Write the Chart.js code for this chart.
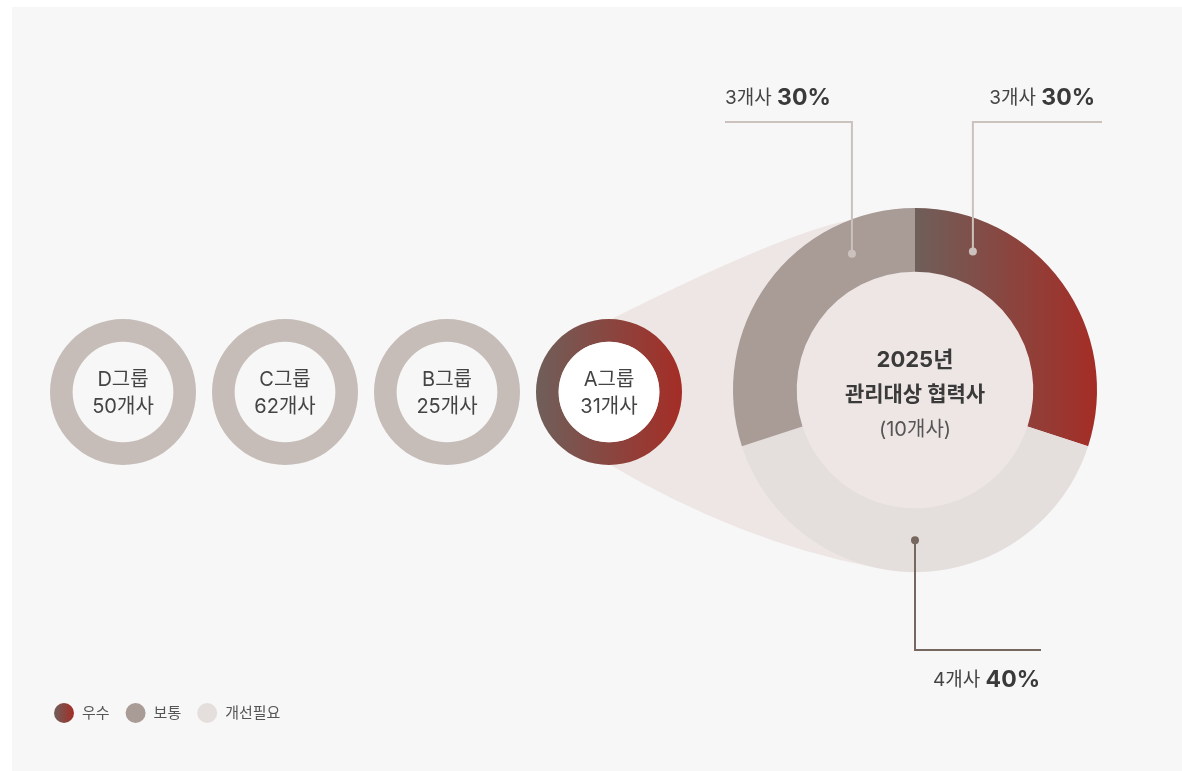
<!DOCTYPE html>
<html lang="ko">
<head>
<meta charset="utf-8">
<title>2025년 관리대상 협력사</title>
<script src="https://cdn.jsdelivr.net/npm/chart.js@4.4.1/dist/chart.umd.min.js"></script>
<style>
  html, body { margin: 0; padding: 0; background: #fff; }
  body { width: 1182px; height: 771px; position: relative; overflow: hidden; }
  #panel { position: absolute; left: 12px; top: 7px; right: 0; bottom: 0; background: #f7f7f7; }
  canvas { position: absolute; }
  #main { left: 0; top: 0; }
</style>
</head>
<body>
<div id="panel"></div>
<canvas id="main" width="1182" height="771"></canvas>
<canvas class="group" width="146" height="146"></canvas>
<canvas class="group" width="146" height="146"></canvas>
<canvas class="group" width="146" height="146"></canvas>
<canvas class="group" width="146" height="146"></canvas>
<script>
// groups shown as small rings, left to right
var groupNames = ['D그룹', 'C그룹', 'B그룹', 'A그룹'];
var groupCounts = [50, 62, 25, 31];
var focusGroup = 'A그룹';

// grades of the focus group (legend order)
var gradeLabels = ['우수', '보통', '개선필요'];
var gradeCounts = [3, 3, 4];
var gradePercents = [30, 30, 40];
// order the grades run clockwise from 12 o'clock
var ringOrder = [0, 2, 1];

var centerYear = '2025년';
var centerTitle = '관리대상 협력사';
var centerTotal = 10;

var FONT = 'Inter, "Noto Sans CJK KR", "Noto Sans", sans-serif';
var GRAY_RING = '#c6bdb9';
var CONE = '#ede6e4';
var gradeColors = ['grad', '#a99c97', '#e4dfdc'];

var GROUP_X0 = 123, GROUP_GAP = 162, ROW_Y = 392, GROUP_R = 73;

function redGradient(ctx, x0, x1) {
  var g = ctx.createLinearGradient(x0, 0, x1, 0);
  g.addColorStop(0, '#6f5f5a');
  g.addColorStop(1, '#a42d26');
  return g;
}

function rad(deg) { return deg * Math.PI / 180; }

// ---- small group rings ----
var groupCanvases = document.querySelectorAll('canvas.group');
groupNames.forEach(function (name, i) {
  var cv = groupCanvases[i];
  cv.style.left = (GROUP_X0 + i * GROUP_GAP - GROUP_R) + 'px';
  cv.style.top = (ROW_Y - GROUP_R) + 'px';
  var hot = name === focusGroup;

  new Chart(cv, {
    type: 'doughnut',
    data: {
      labels: [name],
      datasets: [{
        data: [groupCounts[i]],
        backgroundColor: function (c) {
          if (!hot) return GRAY_RING;
          var a = c.chart.chartArea;
          if (!a) return '#8a4a40';
          return redGradient(c.chart.ctx, a.left, a.right);
        },
        borderWidth: 0
      }]
    },
    options: {
      responsive: false,
      animation: false,
      cutout: '69%',
      plugins: { legend: { display: false }, tooltip: { enabled: false } }
    },
    plugins: [{
      id: 'groupLabel',
      afterDatasetsDraw: function (chart) {
        var arc = chart.getDatasetMeta(0).data[0];
        var ctx = chart.ctx;
        ctx.save();
        if (hot) {
          ctx.fillStyle = '#ffffff';
          ctx.beginPath();
          ctx.arc(arc.x, arc.y, arc.innerRadius, 0, Math.PI * 2);
          ctx.fill();
        }
        ctx.fillStyle = '#444444';
        ctx.font = '20px ' + FONT;
        ctx.textAlign = 'center';
        ctx.textBaseline = 'middle';
        ctx.fillText(name, arc.x, arc.y - 12);
        ctx.fillText(groupCounts[i] + '개사', arc.x, arc.y + 15);
        ctx.restore();
      }
    }]
  });
});

// ---- big ring: grades of the focus group ----
var focusIndex = groupNames.indexOf(focusGroup);
var focusCircle = { x: GROUP_X0 + focusIndex * GROUP_GAP, y: ROW_Y, r: GROUP_R };

var callouts = [
  { grade: 0, at: 0.21, elbowY: 122, endX: 1102, color: '#cbc1bd', textX: 1095, textY: 98, align: 'right' },
  { grade: 1, at: 0.77, elbowY: 122, endX: 725, color: '#cbc1bd', textX: 725, textY: 98, align: 'left' },
  { grade: 2, at: 0.5, elbowY: 650, endX: 1041, color: '#76675f', textX: 1040, textY: 680, align: 'right' }
];

// funnel edges: where they leave the small ring / reach the big ring, and their headings
var coneEdges = [
  { small: -88, big: -111, dirStart: -26.6, dirEnd: -11.3 },
  { small: 89, big: 103.6, dirStart: 30.5, dirEnd: 10.8 }
];

function curveEdge(c1, c2, e) {
  var p0 = { x: c1.x + c1.r * Math.cos(rad(e.small)), y: c1.y + c1.r * Math.sin(rad(e.small)) };
  var p2 = { x: c2.x + c2.r * Math.cos(rad(e.big)), y: c2.y + c2.r * Math.sin(rad(e.big)) };
  // control point where the two headings cross
  var d0 = { x: Math.cos(rad(e.dirStart)), y: Math.sin(rad(e.dirStart)) };
  var d2 = { x: Math.cos(rad(e.dirEnd)), y: Math.sin(rad(e.dirEnd)) };
  var den = d0.x * d2.y - d0.y * d2.x;
  var t = ((p2.x - p0.x) * d2.y - (p2.y - p0.y) * d2.x) / den;
  var cp = { x: p0.x + t * d0.x, y: p0.y + t * d0.y };
  return { p0: p0, cp: cp, p2: p2 };
}

var conePlugin = {
  id: 'cone',
  beforeDatasetsDraw: function (chart) {
    var arc = chart.getDatasetMeta(0).data[0];
    var c1 = focusCircle, c2 = { x: arc.x, y: arc.y, r: arc.outerRadius };
    var up = curveEdge(c1, c2, coneEdges[0]);
    var lo = curveEdge(c1, c2, coneEdges[1]);
    var ctx = chart.ctx;
    ctx.save();
    ctx.fillStyle = CONE;
    ctx.beginPath();
    ctx.moveTo(up.p0.x, up.p0.y);
    ctx.quadraticCurveTo(up.cp.x, up.cp.y, up.p2.x, up.p2.y);
    ctx.arc(c2.x, c2.y, c2.r, rad(coneEdges[0].big), rad(coneEdges[1].big), false);
    ctx.quadraticCurveTo(lo.cp.x, lo.cp.y, lo.p0.x, lo.p0.y);
    ctx.arc(c1.x, c1.y, c1.r, rad(coneEdges[1].small), rad(coneEdges[0].small + 360), false);
    ctx.closePath();
    ctx.fill();
    ctx.restore();
  }
};

var annotatePlugin = {
  id: 'annotate',
  afterDatasetsDraw: function (chart) {
    var ctx = chart.ctx;
    var meta = chart.getDatasetMeta(0);
    var first = meta.data[0];
    ctx.save();

    // center text
    ctx.textAlign = 'center';
    ctx.textBaseline = 'middle';
    ctx.fillStyle = '#3a3a3a';
    ctx.font = 'bold 22px ' + FONT;
    ctx.fillText(centerYear, first.x, first.y - 30);
    ctx.font = 'bold 21px ' + FONT;
    ctx.fillText(centerTitle, first.x, first.y + 5);
    ctx.fillStyle = '#555555';
    ctx.font = '20px ' + FONT;
    ctx.fillText('(' + centerTotal + '개사)', first.x, first.y + 40);

    // leader lines and value labels
    callouts.forEach(function (co) {
      var el = meta.data[ringOrder.indexOf(co.grade)];
      var a = el.startAngle + co.at * (el.endAngle - el.startAngle);
      var r = (el.innerRadius + el.outerRadius) / 2;
      var px = el.x + r * Math.cos(a), py = el.y + r * Math.sin(a);

      ctx.strokeStyle = co.color;
      ctx.fillStyle = co.color;
      ctx.lineWidth = 2;
      ctx.beginPath();
      ctx.moveTo(px, py);
      ctx.lineTo(px, co.elbowY);
      ctx.lineTo(co.endX, co.elbowY);
      ctx.stroke();
      ctx.beginPath();
      ctx.arc(px, py, 4, 0, Math.PI * 2);
      ctx.fill();

      var left = gradeCounts[co.grade] + '개사 ';
      var right = gradePercents[co.grade] + '%';
      ctx.textAlign = 'left';
      ctx.textBaseline = 'middle';
      ctx.font = '19px ' + FONT;
      var w1 = ctx.measureText(left).width;
      ctx.font = 'bold 23px ' + FONT;
      var w2 = ctx.measureText(right).width;
      var x0 = co.align === 'left' ? co.textX : co.textX - w1 - w2;
      ctx.font = '19px ' + FONT;
      ctx.fillStyle = '#444444';
      ctx.fillText(left, x0, co.textY);
      ctx.font = 'bold 23px ' + FONT;
      ctx.fillStyle = '#3a3a3a';
      ctx.fillText(right, x0 + w1, co.textY);
    });

    // legend
    var x = 54, y = 713, r0 = 10;
    ctx.font = '15px ' + FONT;
    ctx.textBaseline = 'middle';
    ctx.textAlign = 'left';
    gradeLabels.forEach(function (label, i) {
      var cx = x + r0;
      ctx.fillStyle = gradeColors[i] === 'grad' ? redGradient(ctx, cx - r0, cx + r0) : gradeColors[i];
      ctx.beginPath();
      ctx.arc(cx, y, r0, 0, Math.PI * 2);
      ctx.fill();
      ctx.fillStyle = '#555555';
      var tx = cx + r0 + 8;
      ctx.fillText(label, tx, y);
      x = tx + ctx.measureText(label).width + 16;
    });
    ctx.restore();
  }
};

new Chart(document.getElementById('main'), {
  type: 'doughnut',
  data: {
    labels: ringOrder.map(function (g) { return gradeLabels[g]; }),
    datasets: [{
      data: ringOrder.map(function (g) { return gradeCounts[g]; }),
      backgroundColor: function (c) {
        var col = gradeColors[ringOrder[c.dataIndex]];
        if (col !== 'grad') return col;
        var a = c.chart.chartArea;
        if (!a) return '#8a4a40';
        return redGradient(c.chart.ctx, (a.left + a.right) / 2, a.right);
      },
      borderWidth: 0
    }]
  },
  options: {
    responsive: false,
    animation: false,
    cutout: '65%',
    layout: { padding: { left: 733, right: 85, top: 208, bottom: 199 } },
    plugins: { legend: { display: false }, tooltip: { enabled: false } }
  },
  plugins: [conePlugin, annotatePlugin]
});
</script>
</body>
</html>
